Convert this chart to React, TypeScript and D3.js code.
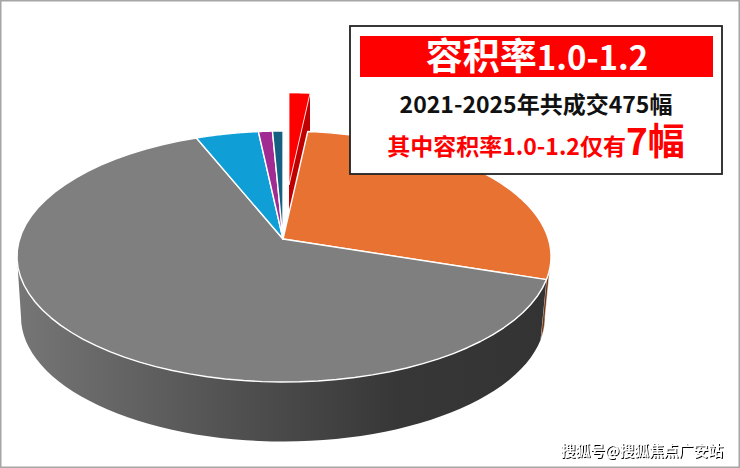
import React from "react";
import * as d3 from "d3";

const categories = ["容积率1.0-1.2", "类别二", "类别三", "类别四", "类别五", "类别六"];
const counts = [7, 126, 317, 18, 4, 3];
const colors = ["#FF0000", "#E77232", "#7F7F7F", "#0F9ED5", "#A02B93", "#156082"];
const titleLead = "容积率";
const titleRange = "1.0-1.2";
const lineTwo = "2021-2025年共成交475幅";
const lineThreeLead = "其中容积率1.0-1.2仅有";
const lineThreeEnd = "7幅";
const watermark = "搜狐号@搜狐焦点广安站";

const W = 740, H = 468;
const CJK = "'Noto Sans CJK SC','Noto Sans',sans-serif";
const apex: [number, number] = [283, 239];
const top = { cx: 284, cy: 256.5, rx: 267, ry: 125.5 };
const bottom = { cx: 283, cy: 317, rx: 262, ry: 124.5 };
type E = typeof top;

const rad = (d: number) => (d * Math.PI) / 180;
const pt = (e: E, a: number): [number, number] => [e.cx + e.rx * Math.sin(a), e.cy - e.ry * Math.cos(a)];
const arcPts = (e: E, a0: number, a1: number) =>
  d3.range(0, 61).map((i) => pt(e, a0 + ((a1 - a0) * i) / 60));
const line = d3.line();
const closed = (p: [number, number][]) => (line(p) ?? "") + "Z";

const pieGen = d3.pie<number>().sort(null).startAngle(rad(-0.2)).endAngle(rad(359.8));
const arcs = pieGen(counts);

export default function App() {
  const [red, orange, grey] = arcs;
  const leftExtreme = rad(270);
  const wallGrey = closed([...arcPts(top, grey.startAngle, leftExtreme), ...arcPts(bottom, leftExtreme, grey.startAngle)]);
  const orangeWallStart = rad(90);
  const wallOrange = closed([...arcPts(top, orangeWallStart, orange.endAngle), ...arcPts(bottom, orange.endAngle, orangeWallStart)]);

  // exploded slice
  const exApex: [number, number] = [289, 185];
  const shift = (p: [number, number]): [number, number] => {
    const s = pt(top, red.startAngle);
    return [exApex[0] + (p[0] - s[0]) * 0.85, p[1] - 38];
  };
  const redRim = arcPts(top, red.startAngle, red.endAngle).map(shift);
  const redEnd = redRim[redRim.length - 1];
  const depth = 60;
  const redFace = closed([exApex, redEnd, [redEnd[0], redEnd[1] + depth], [exApex[0], exApex[1] + depth]]);

  return (
    <svg width={W} height={H} viewBox={`0 0 ${W} ${H}`} style={{ position: "absolute", left: 0, top: 0, background: "#fff" }}>
      <defs>
        <linearGradient id="wall" gradientUnits="userSpaceOnUse" x1={17} x2={545} y1={0} y2={0}>
          <stop offset="0" stopColor="#767676" />
          <stop offset="0.42" stopColor="#505050" />
          <stop offset="0.72" stopColor="#373737" />
          <stop offset="1" stopColor="#333333" />
        </linearGradient>
        <filter id="wm" x="-5%" y="-30%" width="110%" height="160%">
          <feDropShadow dx="1" dy="1" stdDeviation="0.35" floodColor="#000" floodOpacity="1" />
        </filter>
      </defs>
      <rect x={0.75} y={0.75} width={W - 1.5} height={H - 1.5} fill="#fff" stroke="#a6a6a6" strokeWidth={1.5} />

      <path d={wallOrange} fill="#6E3413" stroke="#fff" strokeWidth={0.6} />
      <path d={wallGrey} fill="url(#wall)" />

      <path d={redFace} fill="#C00000" />
      <path d={closed([exApex, ...redRim])} fill={colors[0]} stroke="#fff" strokeWidth={0.8} />

      {arcs.slice(1).map((a, i) => (
        <path
          key={categories[i + 1]}
          d={closed([apex, ...arcPts(top, a.startAngle, a.endAngle)])}
          fill={colors[i + 1]}
          stroke="#fff"
          strokeWidth={1.4}
          strokeLinejoin="round"
        />
      ))}

      <rect x={350} y={26} width={372} height={148} fill="#fff" stroke="#222" strokeWidth={1.8} />
      <rect x={360} y={36} width={353} height={41} fill="#FF0000" />
      <text x={537} y={70} textAnchor="middle" fontFamily={CJK} fontWeight={700} fill="#fff">
        <tspan fontSize={37}>{titleLead}</tspan>
        <tspan fontSize={33}>{titleRange}</tspan>
      </text>
      <text x={536} y={113} textAnchor="middle" fontFamily={CJK} fontWeight={700} fontSize={23} fill="#111">
        {lineTwo}
      </text>
      <text x={536} y={155} textAnchor="middle" fontFamily={CJK} fontWeight={700} fill="#FF0000">
        <tspan fontSize={23}>{lineThreeLead}</tspan>
        <tspan fontSize={37}>{lineThreeEnd}</tspan>
      </text>
      <text x={723} y={456} textAnchor="end" fontFamily={CJK} fontWeight={500} fontSize={14.8} fill="#fff" filter="url(#wm)">
        {watermark}
      </text>
    </svg>
  );
}
